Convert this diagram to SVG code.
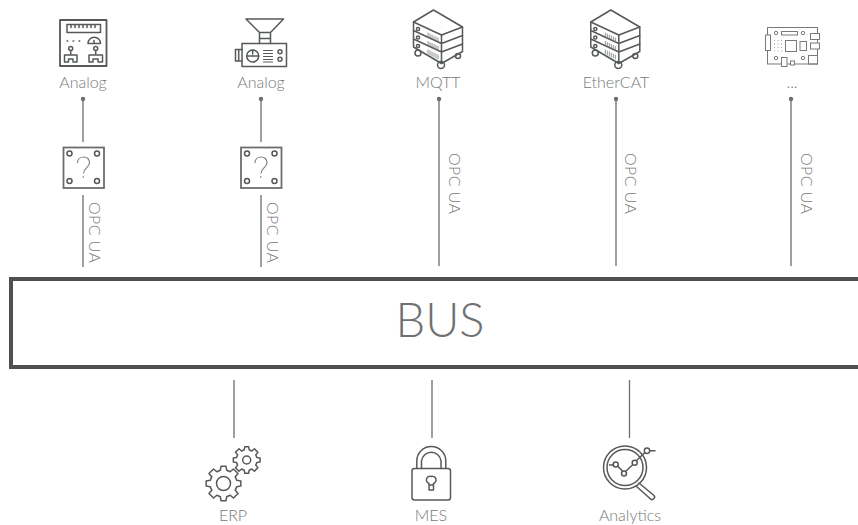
<svg xmlns="http://www.w3.org/2000/svg" xmlns:xlink="http://www.w3.org/1999/xlink" width="858" height="525" viewBox="0 0 858 525">
<style>
text{font-family:"Lato","Open Sans","Liberation Sans",sans-serif;font-weight:300;fill:#77797a}
.lb{font-size:16px;text-anchor:middle}
.op{font-size:16px}
.i{fill:none;stroke:#55595a;stroke-width:1.5;stroke-linejoin:round;stroke-linecap:round}
.c{fill:none;stroke:#6b6e6f;stroke-width:1.3}
.d{fill:#6b6e6f}
.g{vector-effect:non-scaling-stroke}
</style>
<defs>
<g id="server" class="i">
<path d="M433.500 10L462.500 27V51.500L441.500 63.500L413.500 47V22Z"/>
<path d="M413.500 22L441.500 35L462.500 27"/>
<path d="M441.500 35V63.500M413.500 30.500L441.500 43.500L462.500 35.500M413.500 39L441.500 52L462.500 44"/>
<circle cx="418" cy="29" r="1.600"/><circle cx="418" cy="37.500" r="1.600"/><circle cx="418" cy="46" r="1.600"/>
<path stroke-width=".8" stroke="#777" d="M428 33v4M430 34v4M432 35v4M434 36v4M436 37v4M438 38v4M428 41.500v4M430 42.500v4M432 43.500v4M434 44.500v4M436 45.500v4M438 46.500v4M428 50v4M430 51v4M432 52v4M434 53v4M436 54v4M438 55v4"/>
<circle cx="418" cy="53" r="3"/><circle cx="441" cy="65" r="3.500"/><circle cx="458" cy="56" r="2.500"/>
</g>
<g id="qbox">
<rect x="63.500" y="147.500" width="40.500" height="40.500" fill="#fff" stroke="#6b6e6f" stroke-width="1.800"/>
<circle cx="69.500" cy="153.500" r="2.500" class="i"/><circle cx="97" cy="153.500" r="2.500" class="i"/><circle cx="69.500" cy="181" r="2.500" class="i"/><circle cx="97" cy="181" r="2.500" class="i"/>
<path d="M77.500 163C77.500 155 90 155 89.500 163C89.300 167.500 83.500 168 83.500 173.500" fill="none" stroke="#7d7f80" stroke-width="1.200"/>
<circle cx="83.300" cy="177" r=".8" class="d"/>
</g>
<path id="gear" class="i g" d="M76-18L99-14L99 14L76 18L67 38L83 57L57 83L38 67L18 76L14 99L-14 99L-18 76L-38 67L-57 83L-83 57L-67 38L-76 18L-99 14L-99-14L-76-18L-67-38L-83-57L-57-83L-38-67L-18-76L-14-99L14-99L18-76L38-67L57-83L83-57L67-38Z"/>
</defs>

<g id="connectors">
<path class="c" d="M83 99V142M83 195V267M261 99V142M261 195V267M439 99V266M616 99V266M791 99V266M234 380V438M432 380V438M629.500 380V438"/>
<circle class="d" cx="83" cy="99" r="2.200"/><circle class="d" cx="261" cy="99" r="2.200"/><circle class="d" cx="439" cy="99" r="2.200"/><circle class="d" cx="616" cy="99" r="2.200"/><circle class="d" cx="791" cy="99" r="2.200"/>
<text class="op" transform="translate(89 202) rotate(90)" textLength="61">OPC UA</text>
<text class="op" transform="translate(267 202) rotate(90)" textLength="61">OPC UA</text>
<text class="op" transform="translate(449 153) rotate(90)" textLength="61">OPC UA</text>
<text class="op" transform="translate(625 153) rotate(90)" textLength="61">OPC UA</text>
<text class="op" transform="translate(801 153) rotate(90)" textLength="61">OPC UA</text>
</g>

<g id="bus">
<rect x="11" y="279" width="900" height="88" fill="#fff" stroke="#4d5152" stroke-width="4"/>
<text x="440" y="337" font-size="47" text-anchor="middle" style="fill:#6f7172">BUS</text>
</g>

<g id="node-analog-1">
<g class="i">
<rect x="60" y="20" width="46.500" height="46" stroke-width="1.800"/>
<path d="M67 24.500H100.500V32.500H67ZM71 24.500v3M75 24.500v3M79 24.500v3M83 24.500v3M87 24.500v3M91 24.500v3M95 24.500v3"/>
<path d="M88 43.500A6 6 0 0 1 100.500 43.500ZM94 43.500V40.500"/>
<path d="M67 41h.8M73 41h.8M79 41h.8" stroke-width="1.300"/>
<circle cx="70.700" cy="48.500" r="2"/><circle cx="95.700" cy="48.500" r="2"/>
<path d="M70.700 50.500V55M64.500 62V55H77V62H73V59H68.500V62ZM95.700 50.500V55M89 62V55H102.500V62H98V59H93V62Z"/>
</g>
<text class="lb" x="83" y="88">Analog</text>
</g>

<g id="node-analog-2">
<g class="i">
<path d="M246 19H283.500L270.500 32.500H259.500ZM259.500 32.500V43.500M270.500 32.500V43.500M259.500 38.500H270.500"/>
<rect x="242" y="43.500" width="44.500" height="23"/>
<path d="M242 49.500H235.500V61H242M238.700 49.500V61"/>
<circle cx="252.700" cy="56" r="6"/><path d="M246.700 56H258.700M252.700 50V54"/>
<path d="M263.500 50.500H272.500M263.500 53.500H272.500M263.500 56.500H272.500M263.500 59.500H272.500M263.500 62H272.500" stroke-width="1.100"/>
<circle cx="280" cy="51.700" r="2"/><circle cx="280" cy="59.300" r="2"/>
</g>
<text class="lb" x="261" y="88">Analog</text>
</g>

<g id="node-mqtt"><use href="#server" xlink:href="#server"/><text class="lb" x="438" y="88">MQTT</text></g>
<g id="node-ethercat"><use href="#server" xlink:href="#server" x="177.300"/><text class="lb" x="616" y="88">EtherCAT</text></g>

<g id="node-board">
<g fill="none" stroke="#777a7b" stroke-width="1">
<rect x="767.500" y="27.500" width="50" height="36.500"/>
<rect x="765.500" y="35" width="5" height="15.500" fill="#fff"/>
<rect x="781.500" y="31.500" width="16" height="3.500"/>
<circle cx="776" cy="33" r="1.700"/><circle cx="803" cy="33" r="1.700"/><circle cx="776" cy="58" r="1.700"/><circle cx="803" cy="58" r="1.700"/>
<rect x="785.500" y="40.500" width="11" height="11"/>
<rect x="800" y="41.500" width="6.500" height="9"/>
<rect x="810.500" y="33.500" width="9" height="6" fill="#fff"/><rect x="810.500" y="43" width="9" height="6" fill="#fff"/>
<rect x="808.500" y="55.500" width="9" height="8.500"/>
<rect x="781.500" y="57.500" width="5.500" height="9" fill="#fff"/><rect x="790.500" y="61" width="4" height="4" fill="#fff"/>
<path d="M774 40.500h9M774 44h9M774 47.500h9M774 51h9" stroke-dasharray="1 2.500" stroke="#aaa"/>
</g>
<text class="lb" x="792" y="88">...</text>
</g>

<g id="node-opc-1"><use href="#qbox" xlink:href="#qbox"/></g>
<g id="node-opc-2"><use href="#qbox" xlink:href="#qbox" x="177.500"/></g>

<g id="node-erp">
<use href="#gear" xlink:href="#gear" transform="translate(223.500 483.500) scale(.175)"/>
<circle class="i" cx="223.500" cy="483.500" r="7"/>
<use href="#gear" xlink:href="#gear" transform="translate(246.700 460) scale(.135)"/>
<circle class="i" cx="246.700" cy="460" r="4"/>
<text class="lb" x="233" y="521">ERP</text>
</g>

<g id="node-mes">
<g class="i">
<rect x="412" y="468.500" width="38.500" height="31.500" rx="2.500"/>
<path d="M416.800 468.500V461A14.500 14.500 0 0 1 445.800 461V468.500M421.500 468.500V461A9.800 9.800 0 0 1 441 461V468.500"/>
<path d="M429 485V490H433.500V485M431.200 476.500A3 3 0 0 0 429 483.500V485H433.500V483.500A3 3 0 0 0 431.200 476.500Z"/>
</g>
<text class="lb" x="431" y="521">MES</text>
</g>

<g id="node-analytics">
<g class="i">
<circle cx="625" cy="467.500" r="21.500"/><circle cx="625" cy="467.500" r="18"/>
<path d="M639 483L654 495.500A2.500 2.500 0 0 1 650 498.500L636 486"/>
<path d="M609.500 465H613.500M618 466.500L622.500 471M626 471L632.500 465M636.500 460.500L644.500 453M650 450.700H655"/>
<circle cx="615.700" cy="464.500" r="2.500"/><circle cx="624" cy="473.500" r="2.500"/><circle cx="634.700" cy="462.700" r="2.500"/><circle cx="647" cy="450.700" r="2.700"/>
</g>
<text class="lb" x="630" y="521">Analytics</text>
</g>
</svg>
